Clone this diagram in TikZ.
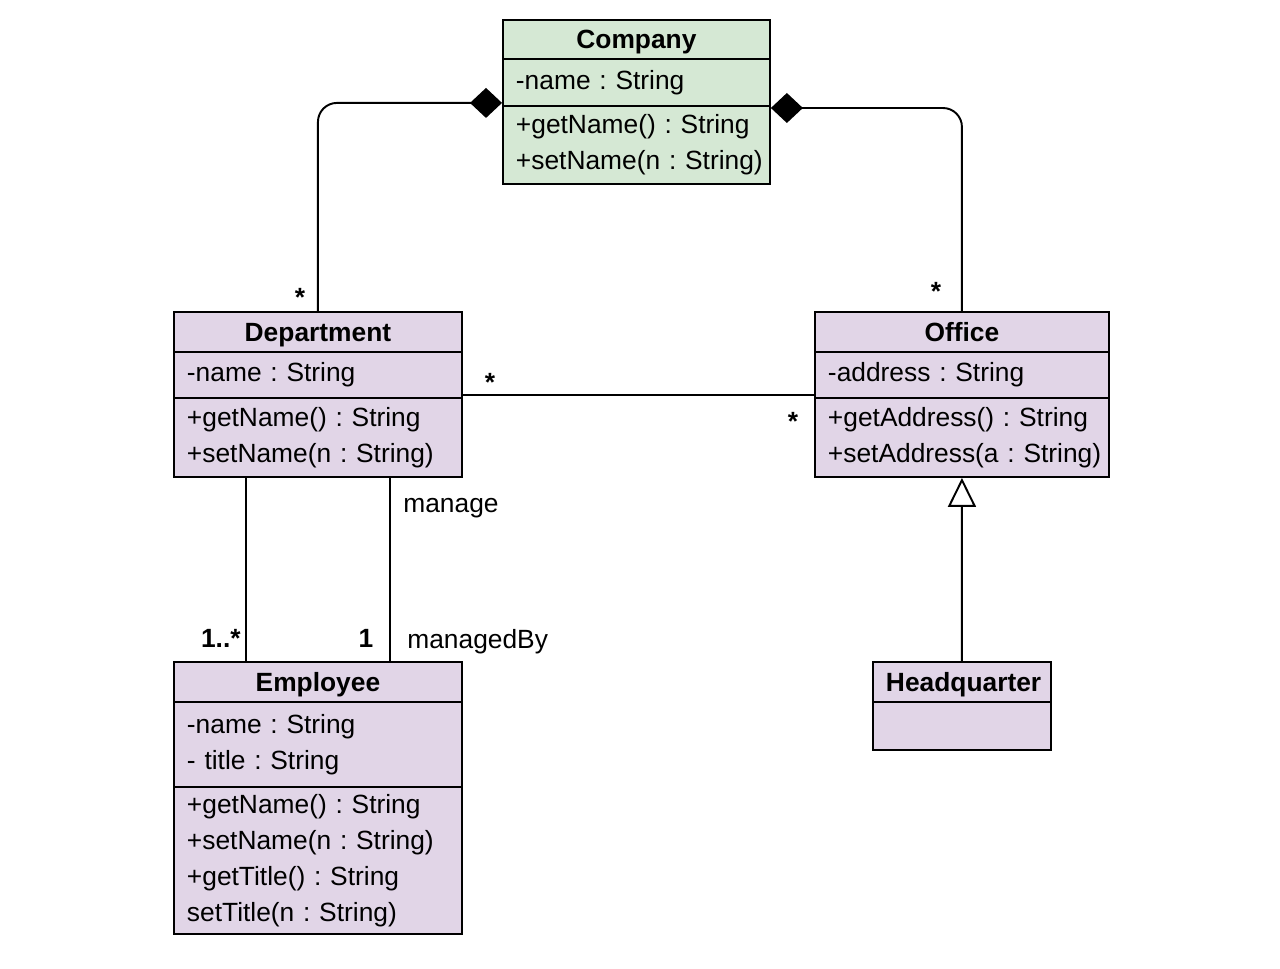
\documentclass[tikz,border=0pt]{standalone}
\usepackage{fontspec}
\setmainfont{Liberation Sans}
\usepackage{xcolor}
\usetikzlibrary{chains,positioning,calc,arrows.meta}

\definecolor{compgreen}{HTML}{D5E8D4}
\definecolor{classlilac}{HTML}{E1D5E7}
\frenchspacing

\begin{document}
\begin{tikzpicture}[x=0.02cm,y=0.02cm]

        \useasboundingbox (0,0) rectangle (1280,-968);

        \tikzstyle{umlbox}=[draw,line width=1.1pt,inner xsep=0.26cm,inner ysep=1pt,font=\fontsize{15}{20.4}\selectfont\frenchspacing]
        \tikzstyle{umlhead}=[umlbox,font=\fontsize{15}{20.4}\selectfont\bfseries,align=center,text height=13pt,text depth=2.2pt]
        \tikzstyle{umlpart}=[umlbox,align=left]
        \tikzstyle{link}=[line width=1.1pt,rounded corners=0.38cm]
        \tikzstyle{mult}=[inner sep=0pt,font=\fontsize{15}{20.4}\selectfont\bfseries]
        \tikzstyle{role}=[inner sep=0pt,font=\fontsize{15}{20.4}\selectfont]

        %% Company
        \begin{scope}[start chain=company going below,node distance=-1.1pt]
            \node [on chain=company,umlhead,fill=compgreen,text width=4.82cm,minimum height=0.78cm,anchor=north west] (company) at (502,-19) {Company};
            \node [on chain=company,umlpart,fill=compgreen,text width=4.82cm,minimum height=0.94cm] (company-a) {-name : String};
            \node [on chain=company,umlpart,fill=compgreen,text width=4.82cm,minimum height=1.56cm] (company-m) {+getName() : String\\\mbox{+setName(n : String)}};
        \end{scope}

        %% Department
        \begin{scope}[start chain=dept going below,node distance=-1.1pt]
            \node [on chain=dept,umlhead,fill=classlilac,text width=5.24cm,minimum height=0.8cm,anchor=north west] (dept) at (173,-311) {Department};
            \node [on chain=dept,umlpart,fill=classlilac,text width=5.24cm,minimum height=0.92cm] (dept-a) {-name : String};
            \node [on chain=dept,umlpart,fill=classlilac,text width=5.24cm,minimum height=1.58cm] (dept-m) {+getName() : String\\+setName(n : String)};
        \end{scope}

        %% Office
        \begin{scope}[start chain=office going below,node distance=-1.1pt]
            \node [on chain=office,umlhead,fill=classlilac,text width=5.36cm,minimum height=0.8cm,anchor=north west] (office) at (814,-311) {Office};
            \node [on chain=office,umlpart,fill=classlilac,text width=5.36cm,minimum height=0.92cm] (office-a) {-address : String};
            \node [on chain=office,umlpart,fill=classlilac,text width=5.36cm,minimum height=1.58cm] (office-m) {+getAddress() : String\\\mbox{+setAddress(a : String)}};
        \end{scope}

        %% Employee
        \begin{scope}[start chain=emp going below,node distance=-1.1pt]
            \node [on chain=emp,umlhead,fill=classlilac,text width=5.24cm,minimum height=0.8cm,anchor=north west] (employee) at (173,-661) {Employee};
            \node [on chain=emp,umlpart,fill=classlilac,text width=5.24cm,minimum height=1.7cm] (employee-a) {-name : String\\- title : String};
            \node [on chain=emp,umlpart,fill=classlilac,text width=5.24cm,minimum height=2.94cm] (employee-m) {+getName() : String\\+setName(n : String)\\+getTitle() : String\\setTitle(n : String)};
        \end{scope}

        %% Headquarter
        \begin{scope}[start chain=hq going below,node distance=-1.1pt]
            \node [on chain=hq,umlhead,fill=classlilac,text width=3.04cm,minimum height=0.8cm,anchor=north west] (hq) at (872,-661) {Headquarter};
            \node [on chain=hq,umlpart,fill=classlilac,text width=3.04cm,minimum height=0.96cm] (hq-a) {};
        \end{scope}

        %% compositions
        \draw[link,{Diamond[length=0.64cm,width=0.6cm]}-] ($(company-a.south west)+(0,4)$) -| (dept.north);
        \draw[link,{Diamond[length=0.64cm,width=0.6cm]}-] ($(company-m.north east)+(0,-3)$) -| (office.north);

        %% associations
        \draw[link] ($(dept-a.south east)+(0,4)$) -- ($(office-a.south west)+(0,4)$);
        \draw[link] ($(dept-m.south west)+(73,0)$) -- ($(employee.north west)+(73,0)$);
        \draw[link] ($(dept-m.south west)+(217,0)$) -- ($(employee.north west)+(217,0)$);

        %% generalization
        \draw[link,-{Triangle[open,length=0.58cm,width=0.56cm]}] (hq.north) -- (office-m.south);

        %% multiplicities and roles
        \node[mult,anchor=base] (dept-star) at (300,-306) {*};
        \node[mult,anchor=base] (office-star) at (936,-300) {*};
        \node[mult,anchor=base] (assoc-star-l) at (490,-391) {*};
        \node[mult,anchor=base] (assoc-star-r) at (793,-430) {*};
        \node[mult,anchor=base east] (emp-many) at (241,-647) {1..*};
        \node[mult,anchor=base] (emp-one) at (366,-647) {1};
        \node[role,anchor=base west] (manage) at (403,-512) {manage};
        \node[role,anchor=base west] (managedby) at (407,-648) {managedBy};

    \end{tikzpicture}
\end{document}
